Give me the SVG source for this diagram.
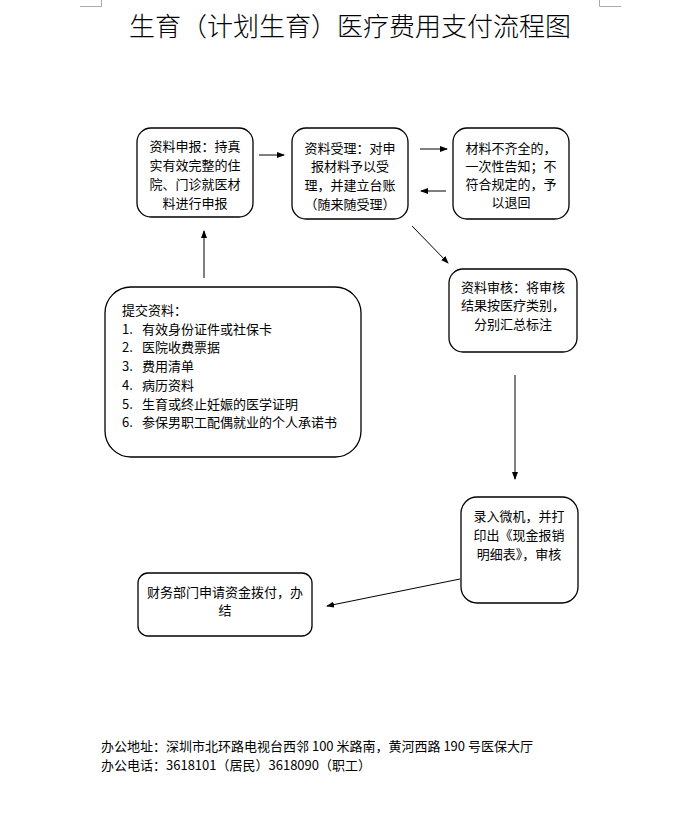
<svg xmlns="http://www.w3.org/2000/svg" width="698" height="830" viewBox="0 0 698 830">
<style>
.box{fill:#fff;stroke:#000;stroke-width:1.3}
.t{font-family:"Noto Sans CJK SC","Liberation Sans",sans-serif;font-size:13px;fill:#000;dominant-baseline:central}
.c{text-anchor:middle}
.ln{stroke:#000;stroke-width:1;fill:none}
.mk{stroke:#aaa;stroke-width:1;fill:none}
</style>
<defs>
<marker id="ah" markerWidth="8" markerHeight="6" refX="7" refY="3" orient="auto" markerUnits="userSpaceOnUse">
<path d="M0,0 L8,3 L0,6 Z" fill="#000"/>
</marker>
</defs>
<rect width="698" height="830" fill="#fff"/>
<path class="mk" d="M80,6.5 H101.5 V0 M599.5,0 V6.5 H621"/>
<text x="350" y="24" text-anchor="middle" dominant-baseline="central" font-family="Noto Sans CJK SC, sans-serif" font-size="26" font-weight="300">生育（计划生育）医疗费用支付流程图</text>

<g id="n1">
<rect class="box" x="137" y="128" width="116" height="89" rx="14"/>
<text class="t c" x="195" y="145">资料申报：持真</text>
<text class="t c" x="195" y="164">实有效完整的住</text>
<text class="t c" x="195" y="183">院、门诊就医材</text>
<text class="t c" x="195" y="202">料进行申报</text>
</g>
<g id="n2">
<rect class="box" x="292" y="128" width="116" height="91" rx="14"/>
<text class="t c" x="350" y="147">资料受理：对申</text>
<text class="t c" x="350" y="165">报材料予以受</text>
<text class="t c" x="350" y="184">理，并建立台账</text>
<text class="t c" x="350" y="203">（随来随受理）</text>
</g>
<g id="n3">
<rect class="box" x="453" y="128" width="116" height="91" rx="14"/>
<text class="t c" x="511" y="147">材料不齐全的，</text>
<text class="t c" x="511" y="165">一次性告知；不</text>
<text class="t c" x="511" y="183">符合规定的，予</text>
<text class="t c" x="511" y="201">以退回</text>
</g>
<g id="n4">
<rect class="box" x="105" y="287" width="256" height="170" rx="26"/>
<text class="t" x="122" y="309">提交资料：</text>
<text class="t" x="122" y="328">1.</text><text class="t" x="142" y="328">有效身份证件或社保卡</text>
<text class="t" x="122" y="346">2.</text><text class="t" x="142" y="346">医院收费票据</text>
<text class="t" x="122" y="365">3.</text><text class="t" x="142" y="365">费用清单</text>
<text class="t" x="122" y="384">4.</text><text class="t" x="142" y="384">病历资料</text>
<text class="t" x="122" y="403">5.</text><text class="t" x="142" y="403">生育或终止妊娠的医学证明</text>
<text class="t" x="122" y="421">6.</text><text class="t" x="142" y="421">参保男职工配偶就业的个人承诺书</text>
</g>
<g id="n5">
<rect class="box" x="449" y="269" width="128" height="83" rx="14"/>
<text class="t c" x="513" y="286">资料审核：将审核</text>
<text class="t c" x="513" y="304">结果按医疗类别，</text>
<text class="t c" x="513" y="323">分别汇总标注</text>
</g>
<g id="n6">
<rect class="box" x="461" y="497" width="117" height="106" rx="16"/>
<text class="t c" x="519" y="515">录入微机，并打</text>
<text class="t c" x="519" y="534">印出《现金报销</text>
<text class="t c" x="519" y="553">明细表》，审核</text>
</g>
<g id="n7">
<rect class="box" x="138" y="573" width="174" height="63" rx="10"/>
<text class="t c" x="225" y="591">财务部门申请资金拨付，办</text>
<text class="t c" x="225" y="609">结</text>
</g>

<g id="connectors">
<line class="ln" x1="259" y1="155" x2="284" y2="155" marker-end="url(#ah)"/>
<line class="ln" x1="420" y1="149" x2="447" y2="149" marker-end="url(#ah)"/>
<line class="ln" x1="446" y1="191" x2="421" y2="191" marker-end="url(#ah)"/>
<line class="ln" x1="412" y1="226" x2="448" y2="263" marker-end="url(#ah)"/>
<line class="ln" x1="515" y1="375" x2="515" y2="479" marker-end="url(#ah)"/>
<line class="ln" x1="204" y1="278" x2="204" y2="231" marker-end="url(#ah)"/>
<line class="ln" x1="460" y1="579" x2="327" y2="606" marker-end="url(#ah)"/>
</g>

<g id="footer">
<text class="t" x="101" y="745">办公地址：深圳市北环路电视台西邻 100 米路南，黄河西路 190 号医保大厅</text>
<text class="t" x="101" y="764">办公电话：3618101（居民）3618090（职工）</text>
</g>
</svg>
